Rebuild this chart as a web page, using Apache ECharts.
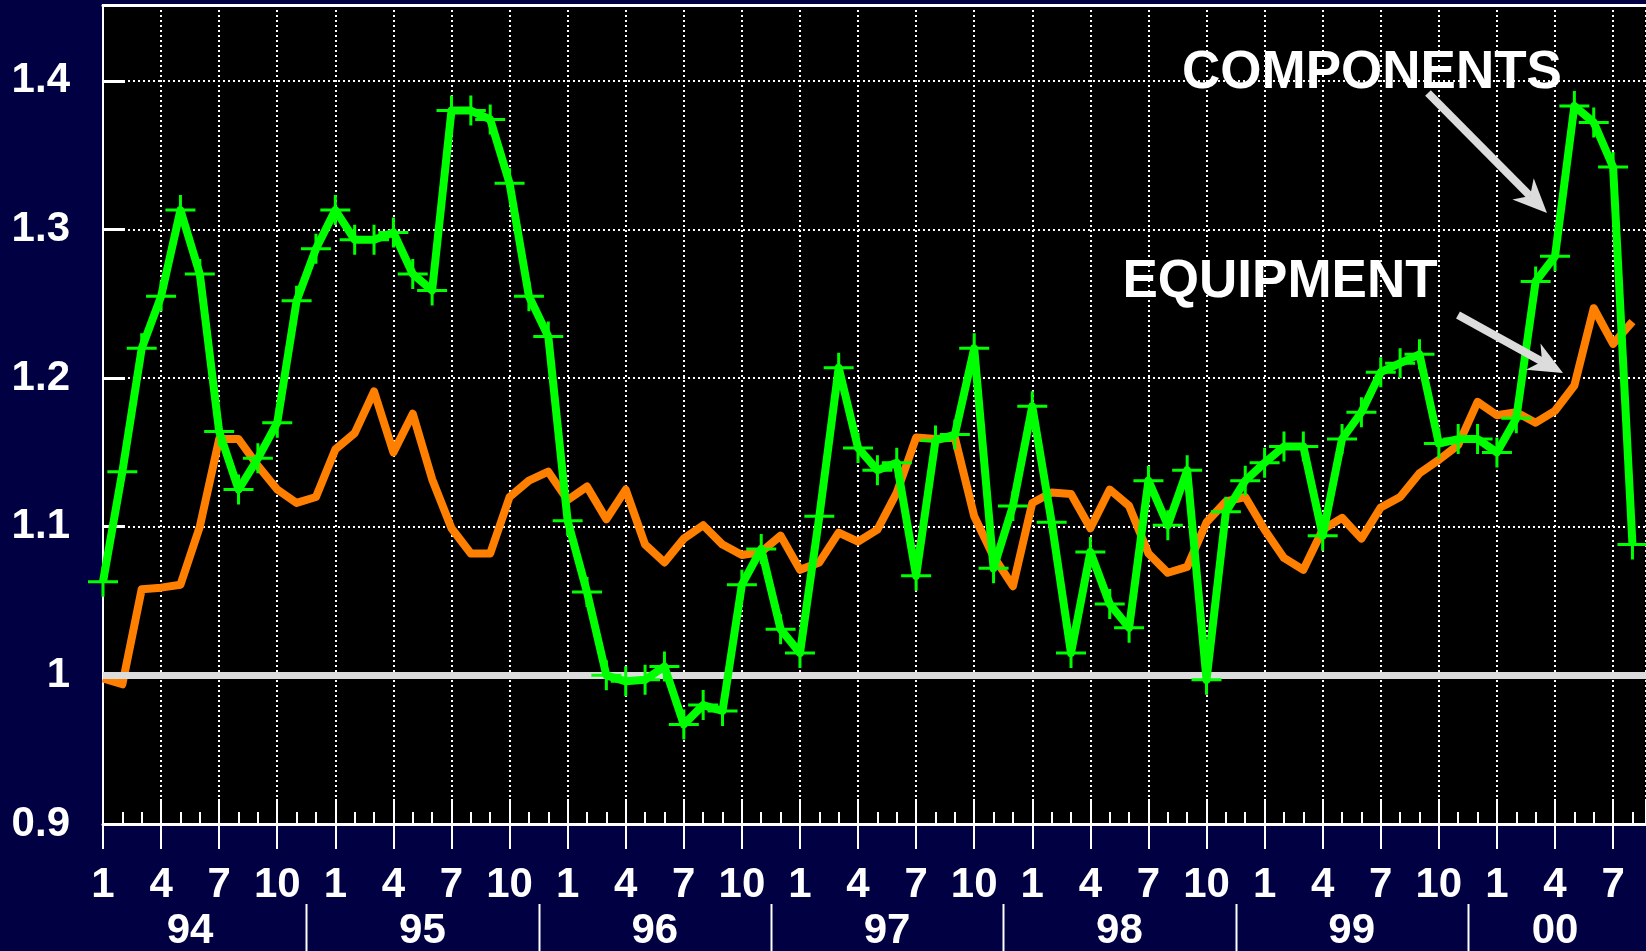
<!DOCTYPE html>
<html>
<head>
<meta charset="utf-8">
<script src="https://cdn.jsdelivr.net/npm/echarts@6/dist/echarts.min.js"></script>
<style>
  html, body { margin: 0; padding: 0; background: #000042; }
  #chart { width: 1646px; height: 951px; }
</style>
</head>
<body>
<div id="chart"></div>
<script>
// Monthly ratio series, Jan 1994 .. Aug 2000 (index 0 = Jan 94)
const components = [
  1.063, 1.137, 1.220, 1.255, 1.313, 1.270, 1.164, 1.125, 1.146, 1.170,
  1.252, 1.287, 1.313, 1.293, 1.293, 1.298, 1.270, 1.259, 1.380, 1.380,
  1.374, 1.331, 1.255, 1.228, 1.104, 1.056, 1.000, 0.996, 0.997, 1.006,
  0.967, 0.980, 0.976, 1.061, 1.085, 1.031, 1.015, 1.107, 1.207, 1.153,
  1.138, 1.143, 1.067, 1.158, 1.162, 1.220, 1.072, 1.114, 1.181, 1.103,
  1.015, 1.083, 1.048, 1.032, 1.131, 1.101, 1.138, 0.997, 1.110, 1.131,
  1.143, 1.154, 1.154, 1.094, 1.159, 1.177, 1.204, 1.210, 1.216, 1.156,
  1.159, 1.159, 1.150, 1.173, 1.265, 1.282, 1.383, 1.372, 1.342, 1.088
];
const equipment = [
  0.998, 0.994, 1.058, 1.059, 1.061, 1.100, 1.159, 1.159, 1.141, 1.125,
  1.116, 1.120, 1.152, 1.163, 1.191, 1.150, 1.176, 1.132, 1.099, 1.082,
  1.082, 1.120, 1.131, 1.137, 1.118, 1.127, 1.105, 1.125, 1.088, 1.076,
  1.092, 1.101, 1.088, 1.081, 1.083, 1.094, 1.071, 1.076, 1.096, 1.090,
  1.098, 1.123, 1.160, 1.159, 1.160, 1.107, 1.080, 1.060, 1.116, 1.123,
  1.122, 1.099, 1.125, 1.114, 1.082, 1.069, 1.073, 1.103, 1.117, 1.120,
  1.098, 1.079, 1.071, 1.098, 1.106, 1.092, 1.113, 1.120, 1.136, 1.145,
  1.155, 1.184, 1.175, 1.177, 1.170, 1.178, 1.195, 1.247, 1.223, 1.238
];
// Year captions under the month labels, with their centre (month index)
const years = ['94', '95', '96', '97', '98', '99', '00'];
const yearCentres = [4.5, 16.5, 28.5, 40.5, 52.5, 64.5, 75];
const yearDividers = [10.5, 22.5, 34.5, 46.5, 58.5, 70.5];
const baseline = 1;

const FONT = 'Liberation Sans, Arial, sans-serif';
const WHITE = '#ffffff';
const ARROW = '#dcdcdc';
const X_END = 79.7;   // visible end of the month axis

const chart = echarts.init(document.getElementById('chart'), null, { renderer: 'canvas' });

const pts = (arr) => arr.map((v, i) => [i, v]);
const plusSymbol = 'path://M0,13.5H30V16.5H0Z M13.5,0H16.5V30H13.5Z';
const monthLabel = (v) => (Math.abs(v - Math.round(v)) < 1e-6 && Math.round(v) % 3 === 0) ? String((Math.round(v) % 12) + 1) : '';

chart.setOption({
  animation: false,
  backgroundColor: '#000042',
  grid: {
    left: 103, top: 5, right: 0, bottom: 127,
    show: true, backgroundColor: '#000000', borderWidth: 0
  },
  xAxis: [
    {
      type: 'value', min: 0, max: X_END, interval: 3, position: 'bottom',
      axisLine: { show: true, lineStyle: { color: WHITE, width: 3 } },
      axisTick: { show: true, inside: false, length: 25, lineStyle: { color: WHITE, width: 2 } },
      axisLabel: {
        color: WHITE, fontSize: 42, fontWeight: 'bold', fontFamily: FONT, margin: 40,
        showMaxLabel: false, formatter: monthLabel
      },
      splitLine: { show: true, lineStyle: { color: WHITE, width: 2, type: [2, 3] } }
    },
    {
      type: 'value', min: 0, max: X_END, interval: 3, position: 'bottom',
      axisLine: { show: false },
      axisTick: { show: true, inside: true, length: 25, lineStyle: { color: WHITE, width: 2 } },
      minorTick: { show: true, splitNumber: 3, length: 12, lineStyle: { color: WHITE, width: 2 } },
      axisLabel: { show: false },
      splitLine: { show: false }
    },
    {
      // top frame edge of the plot
      type: 'value', min: 0, max: X_END, position: 'top',
      axisLine: { show: true, lineStyle: { color: WHITE, width: 3 } },
      axisTick: { show: false }, axisLabel: { show: false }, splitLine: { show: false }
    }
  ],
  yAxis: {
    type: 'value', min: 0.9, max: 1.451, interval: 0.1,
    axisLine: { show: true, lineStyle: { color: WHITE, width: 2 } },
    axisTick: { show: true, inside: true, length: 22, lineStyle: { color: WHITE, width: 3 } },
    axisLabel: {
      color: WHITE, fontSize: 42, fontWeight: 'bold', fontFamily: FONT, margin: 33,
      showMaxLabel: false,
      formatter: (v) => Math.abs(v - 1) < 1e-9 ? '1' : v.toFixed(1)
    },
    splitLine: { show: true, lineStyle: { color: WHITE, width: 2, type: [2, 3] } }
  },
  series: [
    {
      name: 'EQUIPMENT', type: 'line', z: 2,
      data: pts(equipment),
      showSymbol: false, symbol: 'none',
      lineStyle: { color: '#ff8000', width: 8, join: 'round' },
      markLine: {
        silent: true, z: 3, symbol: ['none', 'none'],
        label: { show: false },
        lineStyle: { color: ARROW, width: 7, type: 'solid' },
        data: [{ yAxis: baseline }]
      }
    },
    {
      name: 'COMPONENTS', type: 'line', z: 10,
      data: pts(components),
      symbol: plusSymbol, symbolSize: 30, showAllSymbol: true,
      itemStyle: { color: '#00ff00', borderWidth: 0 },
      lineStyle: { color: '#00ff00', width: 8, join: 'round' }
    }
  ]
});

// Year captions and dividers below the month labels
const xPix = (v) => chart.convertToPixel({ xAxisIndex: 0 }, v);
const graphics = [];
years.forEach((y, k) => {
  graphics.push({
    type: 'text', x: xPix(yearCentres[k]), y: 931,
    style: { text: y, fill: WHITE, font: 'bold 42px ' + FONT, textAlign: 'center', textVerticalAlign: 'middle' }
  });
});
yearDividers.forEach((d) => {
  const x = Math.round(xPix(d)) + 0.5;
  graphics.push({ type: 'line', shape: { x1: x, y1: 904, x2: x, y2: 951 }, style: { stroke: WHITE, lineWidth: 2 } });
});

// Callout labels with arrows
function arrow(x1, y1, x2, y2) {
  const ang = Math.atan2(y2 - y1, x2 - x1);
  const len = 34, half = 15, notch = 24;
  const bx = x2 - len * Math.cos(ang), by = y2 - len * Math.sin(ang);
  const nx = x2 - notch * Math.cos(ang), ny = y2 - notch * Math.sin(ang);
  const px = -Math.sin(ang), py = Math.cos(ang);
  graphics.push({ type: 'line', z: 20, shape: { x1, y1, x2: nx, y2: ny }, style: { stroke: ARROW, lineWidth: 8 } });
  graphics.push({
    type: 'polygon', z: 20,
    shape: { points: [[x2, y2], [bx + px * half, by + py * half], [nx, ny], [bx - px * half, by - py * half]] },
    style: { fill: ARROW }
  });
}
graphics.push({
  type: 'text', z: 20, x: 1372, y: 73,
  style: { text: 'COMPONENTS', fill: WHITE, font: 'bold 53px ' + FONT, textAlign: 'center', textVerticalAlign: 'middle' }
});
graphics.push({
  type: 'text', z: 20, x: 1280, y: 282,
  style: { text: 'EQUIPMENT', fill: WHITE, font: 'bold 53px ' + FONT, textAlign: 'center', textVerticalAlign: 'middle' }
});
arrow(1428, 93, 1547, 213);
arrow(1458, 315, 1563, 373);

chart.setOption({ graphic: graphics });
</script>
</body>
</html>
